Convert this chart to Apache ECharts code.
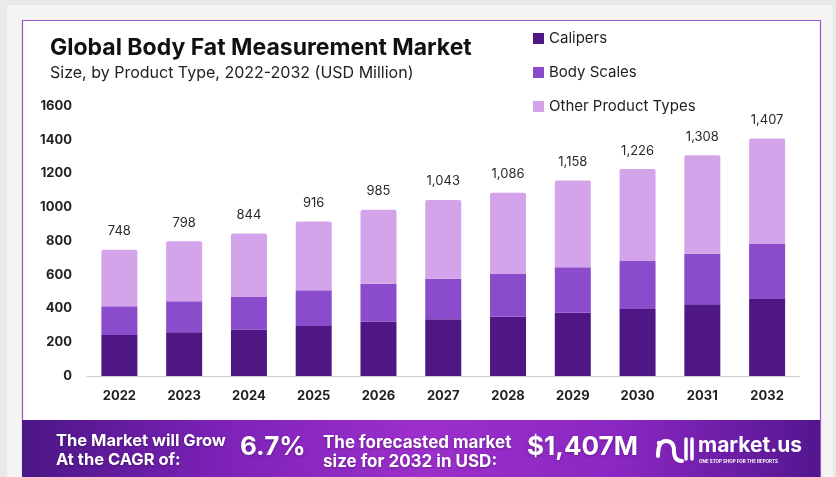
<!DOCTYPE html>
<html>
<head>
<meta charset="utf-8">
<script src="https://cdn.jsdelivr.net/npm/echarts@6/dist/echarts.min.js"></script>
<style>
html,body{margin:0;padding:0;background:#e9e9e9;}
#chart{width:836px;height:477px;}
</style>
</head>
<body>
<div id="chart"></div>
<script>
const years = ['2022','2023','2024','2025','2026','2027','2028','2029','2030','2031','2032'];
const calipers = [243, 259, 274, 296, 322, 336, 351, 375, 397, 425, 456];
const bodyScales = [170, 184, 194, 212, 225, 241, 253, 269, 285, 300, 326];
const otherTypes = [335, 355, 376, 408, 438, 466, 482, 514, 544, 583, 625];
const totals = [748, 798, 844, 916, 985, 1043, 1086, 1158, 1226, 1308, 1407];
const seriesNames = ['Calipers', 'Body Scales', 'Other Product Types'];
const colors = ['#4e1784', '#8a4ccb', '#d3a4e9'];

const FONT = 'Inter, "Noto Sans", sans-serif';
const chart = echarts.init(document.getElementById('chart'), null, {renderer: 'canvas'});

function fmt(v){ return v.toLocaleString('en-US'); }
const shadow = {textShadowColor: 'rgba(0,0,0,0.3)', textShadowBlur: 3, textShadowOffsetY: 1};
const logoStroke = {stroke: '#fff', lineWidth: 4, fill: null, lineCap: 'round'};

const option = {
  animation: false,
  backgroundColor: '#e9e9e9',
  textStyle: {fontFamily: FONT},
  color: colors,
  grid: {left: 87, right: 36.5, top: 106, bottom: 101, containLabel: false},
  legend: {
    orient: 'vertical', left: 528, top: 26,
    itemWidth: 11, itemHeight: 11, itemGap: 19, icon: 'rect',
    textStyle: {fontSize: 15, color: '#1e1e1e', fontFamily: FONT},
    data: seriesNames
  },
  xAxis: {
    type: 'category', data: years,
    axisLine: {show: true, lineStyle: {color: '#cfcfcf', width: 1}},
    axisTick: {show: false},
    axisLabel: {fontSize: 13, fontWeight: 'bold', color: '#222', margin: 14, fontFamily: FONT}
  },
  yAxis: {
    type: 'value', min: 0, max: 1600, interval: 200,
    axisLine: {show: false}, axisTick: {show: false}, splitLine: {show: false},
    axisLabel: {fontSize: 13, fontWeight: 'bold', color: '#222', margin: 15, fontFamily: FONT,
      formatter: v => String(v)}
  },
  graphic: [
    {type: 'rect', z: -10, shape: {x: 7, y: 5, width: 826, height: 480}, style: {fill: '#f4f4f4'}, silent: true},
    {type: 'rect', z: -9, shape: {x: 22.5, y: 20.5, width: 798, height: 470}, style: {fill: '#ffffff', stroke: '#9c52c8', lineWidth: 1.2}, silent: true},
    {type: 'text', left: 50, top: 37, style: {text: 'Global Body Fat Measurement Market', font: 'bold 23px ' + FONT, fill: '#111'}},
    {type: 'text', left: 50, top: 65, style: {text: 'Size, by Product Type, 2022-2032 (USD Million)', font: '16px ' + FONT, fill: '#222'}},
    {type: 'rect', z: 10, shape: {x: 22, y: 420, width: 798, height: 60},
      style: {fill: new echarts.graphic.LinearGradient(0, 0, 1, 0, [
        {offset: 0, color: '#4b1686'},
        {offset: 0.25, color: '#7d22b8'},
        {offset: 0.5, color: '#9d2fcc'},
        {offset: 0.75, color: '#8a27c2'},
        {offset: 1, color: '#53168f'}
      ])}, silent: true},
    {type: 'text', z: 11, left: 56, top: 432, style: Object.assign({text: 'The Market will Grow\nAt the CAGR of:', font: 'bold 16.5px ' + FONT, fill: '#fff', lineHeight: 19}, shadow)},
    {type: 'text', z: 11, left: 240, top: 434, style: Object.assign({text: '6.7%', font: 'bold 26px ' + FONT, fill: '#fff'}, shadow)},
    {type: 'text', z: 11, left: 323, top: 433, style: Object.assign({text: 'The forecasted market\nsize for 2032 in USD:', font: 'bold 17px ' + FONT, fill: '#fff', lineHeight: 19}, shadow)},
    {type: 'text', z: 11, left: 527, top: 434, style: Object.assign({text: '$1,407M', font: 'bold 26px ' + FONT, fill: '#fff'}, shadow)},
    {type: 'bezierCurve', z: 11, shape: {x1: 658, y1: 456, x2: 666, y2: 441, cpx1: 658, cpy1: 441}, style: logoStroke},
    {type: 'bezierCurve', z: 11, shape: {x1: 666, y1: 441, x2: 674, y2: 451, cpx1: 674, cpy1: 441}, style: logoStroke},
    {type: 'bezierCurve', z: 11, shape: {x1: 674, y1: 451, x2: 682, y2: 461, cpx1: 674, cpy1: 461}, style: logoStroke},
    {type: 'circle', z: 11, shape: {cx: 659, cy: 443, r: 2.2}, style: {fill: '#fff'}},
    {type: 'line', z: 11, shape: {x1: 686, y1: 439, x2: 686, y2: 459}, style: {stroke: '#fff', lineWidth: 3.5, lineCap: 'round'}},
    {type: 'line', z: 11, shape: {x1: 692, y1: 439, x2: 692, y2: 459}, style: {stroke: '#fff', lineWidth: 3.5, lineCap: 'round'}},
    {type: 'text', z: 11, left: 698, top: 435, style: {text: 'market.us', font: 'bold 21px ' + FONT, fill: '#fff'}},
    {type: 'text', z: 11, left: 699, top: 459, style: {text: 'ONE STOP SHOP FOR THE REPORTS', font: 'bold 4.5px ' + FONT, fill: '#fff'}}
  ],
  series: [
    {name: seriesNames[0], type: 'bar', stack: 'total', barWidth: 36, data: calipers, itemStyle: {color: colors[0]}},
    {name: seriesNames[1], type: 'bar', stack: 'total', data: bodyScales, itemStyle: {color: colors[1]}},
    {name: seriesNames[2], type: 'bar', stack: 'total', data: otherTypes,
      itemStyle: {color: colors[2], borderRadius: [2, 2, 0, 0]},
      label: {show: true, position: 'top', distance: 12, fontSize: 13, color: '#2a2a2a', fontFamily: FONT,
        formatter: p => fmt(totals[p.dataIndex])}}
  ]
};
chart.setOption(option);
</script>
</body>
</html>
